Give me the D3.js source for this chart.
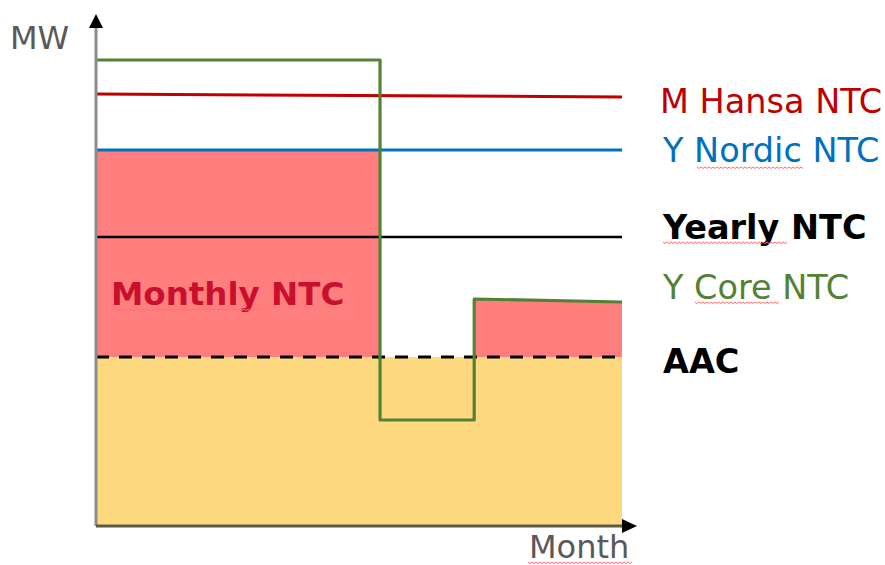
<!DOCTYPE html>
<html><head><meta charset="utf-8">
<script src="https://cdn.jsdelivr.net/npm/d3@7"></script>
<style>body{margin:0;background:#fff}svg{display:block}text{font-family:"DejaVu Sans",Verdana,sans-serif}</style>
</head><body>
<script>
// ---- data (arbitrary units) ----
const xBreaks = [0, 5.4, 7.19, 10];          // month positions
const hansaNTC = [86.4, 85.8];               // start, end
const nordicNTC = [75.2, 75.2];
const yearlyNTC = [57.8, 57.8];
const aac = [33.8, 33.8];
const coreX = [0, 5.4, 5.4, 7.19, 7.19, 10];
const coreY = [93.2, 93.2, 21.2, 21.2, 45.4, 44.8];
const monthlyX1 = [0, 5.4];   // first monthly NTC block
const monthlyTop1 = [75.2, 75.2];
const monthlyX2 = [7.19, 10];
const monthlyTop2 = [45.4, 44.8];
const labels = ["M Hansa NTC", "Y Nordic NTC", "Yearly NTC", "Y Core NTC", "AAC"];

const W = 885, H = 565;
const svg = d3.select("body").append("svg").attr("width", W).attr("height", H);
const x = d3.scaleLinear().domain([0, 10]).range([96, 622]);
const y = d3.scaleLinear().domain([0, 100]).range([526, 26]);

// fills
const area = d3.area().x(d => x(d[0])).y0(y(aac[0])).y1(d => y(d[1]));
svg.append("path").datum([[0, aac[0]], [10, aac[1]]])
  .attr("d", d3.area().x(d => x(d[0])).y0(y(0)).y1(d => y(d[1])))
  .attr("fill", "#ffd97f");
svg.append("path").datum(monthlyX1.map((v, i) => [v, monthlyTop1[i]])).attr("d", area).attr("fill", "#ff7f7f");
svg.append("path").datum(monthlyX2.map((v, i) => [v, monthlyTop2[i]])).attr("d", area).attr("fill", "#ff7f7f");

const line = d3.line().x(d => x(d[0])).y(d => y(d[1]));
function hline(vals, color, dash, w) {
  svg.append("path").datum([[0, vals[0]], [10, vals[1]]]).attr("d", line)
    .attr("fill", "none").attr("stroke", color).attr("stroke-width", w || 3)
    .attr("stroke-dasharray", dash || null);
}
hline(hansaNTC, "#c00000");
hline(nordicNTC, "#0070c0");
hline(yearlyNTC, "#000000", null, 2.5);
hline(aac, "#000000", "13,10", 3);

svg.append("path").datum(coreX.map((v, i) => [v, coreY[i]])).attr("d", line)
  .attr("fill", "none").attr("stroke", "#548235").attr("stroke-width", 3.2)
  .attr("stroke-linejoin", "round");

// axes
svg.append("line").attr("x1", 96).attr("x2", 96).attr("y1", 526).attr("y2", 26)
  .attr("stroke", "#8c8c8c").attr("stroke-width", 3);
svg.append("line").attr("x1", 96).attr("x2", 624).attr("y1", 526).attr("y2", 526)
  .attr("stroke", "#5a5a4a").attr("stroke-width", 3);
svg.append("path").attr("d", "M96,14 L89,28 L103,28 Z").attr("fill", "#000");
svg.append("path").attr("d", "M637,526 L622,519 L622,533 Z").attr("fill", "#000");

svg.append("text").attr("x", 10).attr("y", 49).attr("font-size", 32).attr("fill", "#595959").text("MW");
svg.append("text").attr("x", 529).attr("y", 558).attr("font-size", 32).attr("fill", "#595959").text("Month");

// right labels
const labelY = [113, 162, 239, 299, 373];
const labelColor = ["#c00000", "#0070c0", "#000", "#548235", "#000"];
const labelBold = [false, false, true, false, true];
const labelX = [660, 663, 663, 663, 663];
labels.forEach((t, i) => {
  svg.append("text").attr("x", labelX[i]).attr("y", labelY[i]).attr("font-size", 33.5)
    .attr("font-weight", labelBold[i] ? "bold" : "normal").attr("fill", labelColor[i]).text(t);
});
svg.append("text").attr("x", 111).attr("y", 305).attr("font-size", 32.5)
  .attr("font-weight", "bold").attr("fill", "#c8102e").text("Monthly NTC");

// spell-check squiggles
function squiggle(x0, x1, yy) {
  let d = `M${x0},${yy}`;
  for (let xx = x0, k = 0; xx < x1; xx += 2, k++) d += ` L${xx + 2},${yy + (k % 2 ? 0 : 1.5)}`;
  svg.append("path").attr("d", d).attr("fill", "none").attr("stroke", "#ff6f6f").attr("stroke-width", 1);
}
squiggle(697, 803, 167);
squiggle(663, 786, 242);
squiggle(695, 778, 302);
squiggle(112, 260, 309);
squiggle(528, 632, 562);
</script>
</body></html>
